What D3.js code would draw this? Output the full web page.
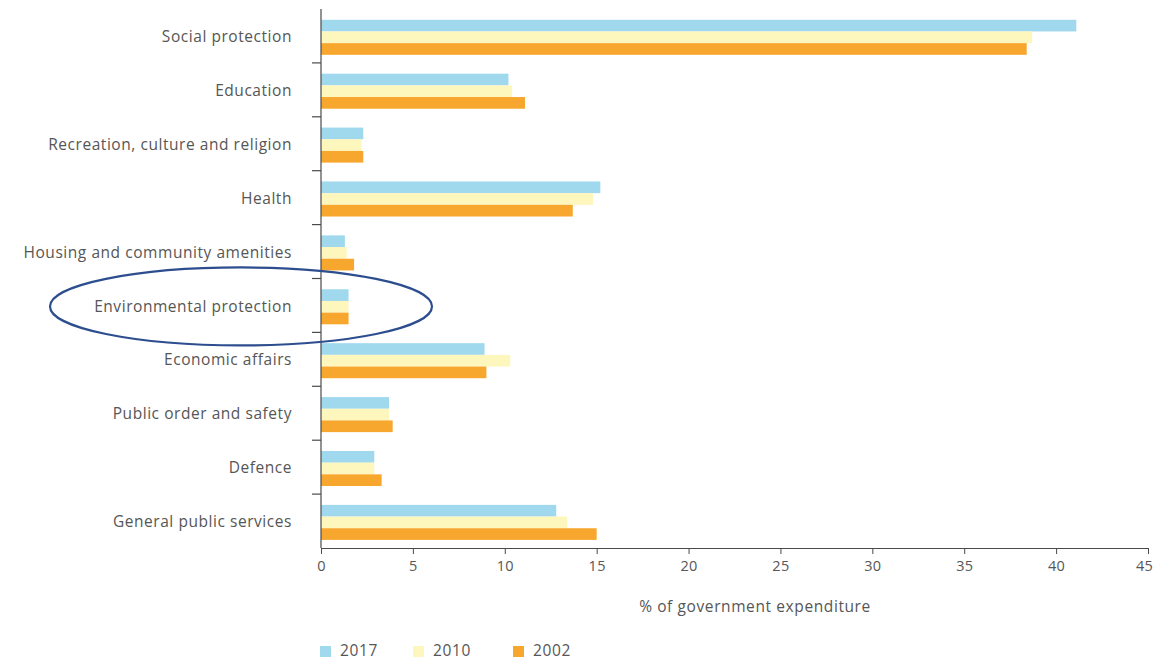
<!DOCTYPE html>
<html>
<head>
<meta charset="utf-8">
<script src="https://cdn.jsdelivr.net/npm/d3@7"></script>
<style>
  html, body { margin: 0; padding: 0; background: #fff; }
  svg { display: block; font-family: "Open Sans", "Noto Sans", sans-serif; }
</style>
</head>
<body>
<svg id="chart" width="1153" height="660"></svg>
<script>
// Government expenditure by function, % of total
const categories = [
  "Social protection",
  "Education",
  "Recreation, culture and religion",
  "Health",
  "Housing and community amenities",
  "Environmental protection",
  "Economic affairs",
  "Public order and safety",
  "Defence",
  "General public services"
];
const years = ["2017", "2010", "2002"];
const values2017 = [41.1, 10.2, 2.3, 15.2, 1.3, 1.5, 8.9, 3.7, 2.9, 12.8];
const values2010 = [38.7, 10.4, 2.2, 14.8, 1.4, 1.5, 10.3, 3.7, 2.9, 13.4];
const values2002 = [38.4, 11.1, 2.3, 13.7, 1.8, 1.5, 9.0, 3.9, 3.3, 15.0];
const xTicks = [0, 5, 10, 15, 20, 25, 30, 35, 40, 45];
const xTitle = "% of government expenditure";
const highlighted = "Environmental protection";

const seriesValues = { "2017": values2017, "2010": values2010, "2002": values2002 };
const colors = { "2017": "#a0d9ee", "2010": "#fdf6bd", "2002": "#f8a72e" };

const svg = d3.select("#chart");
const plotLeft = 321, plotRight = 1148, plotTop = 9, plotBottom = 548;
const textColor = "#565656";

const x = d3.scaleLinear().domain([0, 45]).range([plotLeft, plotRight]);
const y0 = d3.scaleBand().domain(categories).range([plotTop, plotBottom]).padding(0);
const bw = y0.bandwidth();
const y1 = d3.scaleBand().domain(years).range([bw * 0.2, bw * 0.85]).padding(0);

// Bars
const groups = svg.append("g").selectAll("g")
  .data(categories)
  .join("g")
  .attr("transform", d => `translate(0,${y0(d)})`);

groups.selectAll("rect")
  .data((c, i) => years.map(yr => ({ yr, v: seriesValues[yr][i] })))
  .join("rect")
  .attr("x", x(0))
  .attr("y", d => y1(d.yr))
  .attr("width", d => x(d.v) - x(0))
  .attr("height", y1.bandwidth())
  .attr("fill", d => colors[d.yr]);

// Category axis: labels centred in each band, ticks between bands
const yAxis = svg.append("g");
yAxis.append("line")
  .attr("x1", plotLeft).attr("x2", plotLeft)
  .attr("y1", plotTop).attr("y2", plotBottom)
  .attr("stroke", "#4a4a4a").attr("stroke-width", 1.2);
yAxis.selectAll("line.sep")
  .data(categories.slice(1))
  .join("line")
  .attr("class", "sep")
  .attr("x1", plotLeft - 9).attr("x2", plotLeft)
  .attr("y1", d => y0(d)).attr("y2", d => y0(d))
  .attr("stroke", "#4a4a4a").attr("stroke-width", 1.2);
yAxis.selectAll("text")
  .data(categories)
  .join("text")
  .attr("x", 292)
  .attr("y", d => y0(d) + bw / 2 + 2)
  .attr("text-anchor", "end")
  .attr("dominant-baseline", "middle")
  .attr("font-size", 15.5)
  .attr("letter-spacing", 0.55)
  .attr("fill", textColor)
  .text(d => d);

// Value axis
const xAxis = svg.append("g")
  .attr("transform", `translate(0,${plotBottom})`)
  .call(d3.axisBottom(x).tickValues(xTicks).tickSize(6).tickPadding(7).tickSizeOuter(0));
xAxis.select(".domain").attr("stroke", "#4a4a4a").attr("stroke-width", 1.2);
xAxis.selectAll(".tick line").attr("stroke", "#4a4a4a");
xAxis.selectAll(".tick text")
  .attr("font-size", 14.5)
  .attr("letter-spacing", 0.3)
  .attr("fill", textColor)
  .attr("font-family", "\"Open Sans\", sans-serif")
  .attr("dx", d => d === 45 ? -4 : 0);

svg.append("text")
  .attr("x", 755).attr("y", 612)
  .attr("text-anchor", "middle")
  .attr("font-size", 15.5)
  .attr("letter-spacing", 0.6)
  .attr("fill", textColor)
  .text(xTitle);

// Legend
const legendX = [320, 413, 513];
const legend = svg.append("g").selectAll("g")
  .data(years)
  .join("g")
  .attr("transform", (d, i) => `translate(${legendX[i]},652)`);
legend.append("rect")
  .attr("x", 0).attr("y", -6)
  .attr("width", 11).attr("height", 11)
  .attr("fill", d => colors[d]);
legend.append("text")
  .attr("x", 20).attr("y", 0)
  .attr("dominant-baseline", "middle")
  .attr("font-size", 15.5)
  .attr("letter-spacing", 0.6)
  .attr("fill", textColor)
  .text(d => d);

// Highlight ring around one category
const hy = y0(highlighted) + bw / 2;
svg.append("ellipse")
  .attr("cx", 241).attr("cy", hy + 1)
  .attr("rx", 191).attr("ry", 39)
  .attr("fill", "none")
  .attr("stroke", "#2d4e8e")
  .attr("stroke-width", 2.2);
</script>
</body>
</html>
